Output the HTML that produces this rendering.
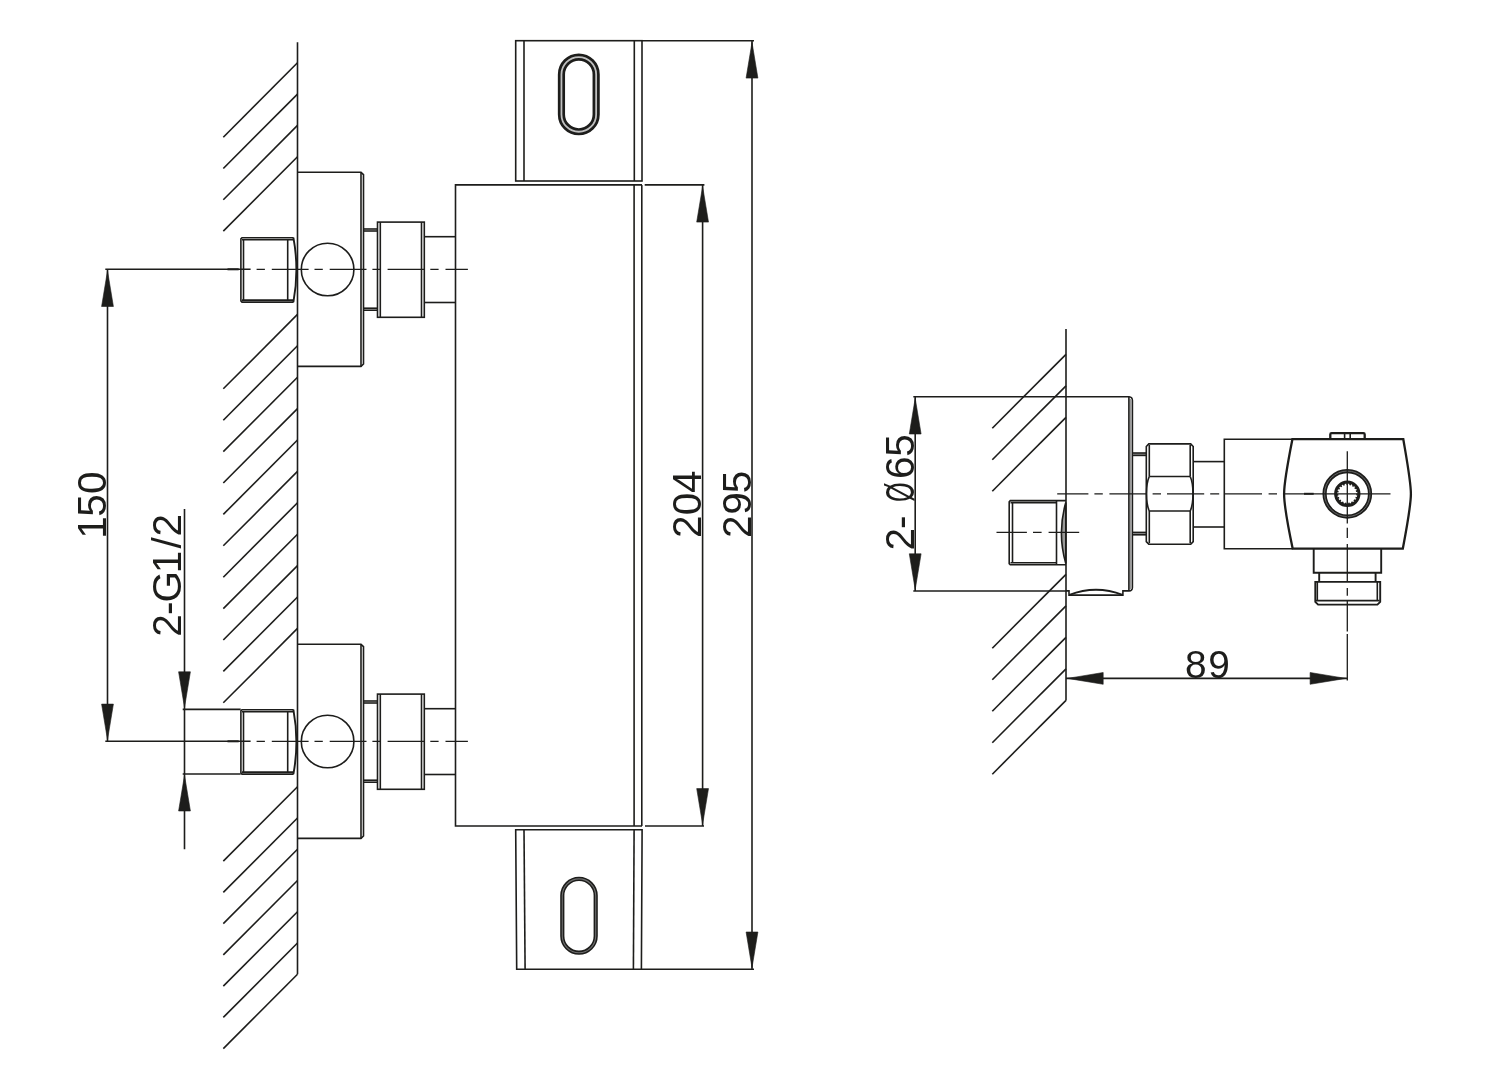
<!DOCTYPE html>
<html lang="en">
<head>
<meta charset="utf-8">
<title>Thermostatic shower mixer – dimensional drawing</title>
<style>
html,body{margin:0;padding:0;background:#fff;}
body{width:1500px;height:1089px;overflow:hidden;}
svg{display:block;will-change:transform;}
svg line,svg path,svg rect,svg circle{fill:none;stroke:#1d1d1b;stroke-width:1.6;stroke-linecap:butt;stroke-linejoin:miter;}
svg .ah{fill:#1d1d1b;stroke:#1d1d1b;stroke-width:0.6;}
svg .cl{stroke-width:1.3;}
svg .slot{stroke-width:7.2;}
svg .slotgap{stroke:#c0c0c0;stroke-width:1.8;}
svg .slot2{stroke-width:4.2;}
svg .slotgap2{stroke:#6e6e6e;stroke-width:1.1;}
svg .ov{stroke-width:2;}
svg .fill{stroke:#9a9a9a;stroke-width:2.2;}
svg .cap{stroke-width:2.3;}
svg .out{stroke-width:1.9;}
svg .ring{stroke-width:4.2;}
svg .ringgap{stroke:#666;stroke-width:1;}
svg .ring2{stroke-width:3;}
svg .teeth{stroke-width:1.6;stroke-dasharray:1.6 1.6;}
svg .lens{fill:#1d1d1b;fill-opacity:.45;}
svg text{font-family:"Liberation Sans",sans-serif;fill:#1d1d1b;stroke:none;}
</style>
</head>
<body>
<svg width="1500" height="1089" viewBox="0 0 1500 1089">
<rect x="0" y="0" width="1500" height="1089" style="fill:#fff;stroke:none"/>
<g id="front-view">
<line x1="297.5" y1="42.3" x2="297.5" y2="974.3"/>
<line x1="223.3" y1="137.2" x2="297.5" y2="62.8"/>
<line x1="223.3" y1="168.5" x2="297.5" y2="94.1"/>
<line x1="223.3" y1="199.8" x2="297.5" y2="125.4"/>
<line x1="223.3" y1="231.1" x2="297.5" y2="156.7"/>
<line x1="223.3" y1="388.8" x2="297.5" y2="314.4"/>
<line x1="223.3" y1="420.2" x2="297.5" y2="345.8"/>
<line x1="223.3" y1="451.6" x2="297.5" y2="377.2"/>
<line x1="223.3" y1="483.0" x2="297.5" y2="408.6"/>
<line x1="223.3" y1="514.4" x2="297.5" y2="440.0"/>
<line x1="223.3" y1="545.8" x2="297.5" y2="471.4"/>
<line x1="223.3" y1="577.2" x2="297.5" y2="502.8"/>
<line x1="223.3" y1="608.6" x2="297.5" y2="534.2"/>
<line x1="223.3" y1="640.0" x2="297.5" y2="565.6"/>
<line x1="223.3" y1="671.4" x2="297.5" y2="597.0"/>
<line x1="223.3" y1="702.8" x2="297.5" y2="628.4"/>
<line x1="223.3" y1="861.1" x2="297.5" y2="786.7"/>
<line x1="223.3" y1="892.4" x2="297.5" y2="818.0"/>
<line x1="223.3" y1="923.6" x2="297.5" y2="849.2"/>
<line x1="223.3" y1="954.9" x2="297.5" y2="880.5"/>
<line x1="223.3" y1="986.1" x2="297.5" y2="911.7"/>
<line x1="223.3" y1="1017.4" x2="297.5" y2="943.0"/>
<line x1="223.3" y1="1048.6" x2="297.5" y2="974.2"/>
<path d="M297.5 172.3 H361 L363.5 174.7 V364.0 L361 366.4 H297.5"/>
<line x1="361.0" y1="172.3" x2="361.0" y2="366.4"/>
<path d="M293.6 237.7 H242 L240.9 238.9 V300.9 L242 302.1 H293.6"/>
<line x1="243.5" y1="239.7" x2="243.5" y2="300.1"/>
<line x1="287.7" y1="239.7" x2="287.7" y2="300.1"/>
<line x1="242.0" y1="239.7" x2="293.4" y2="239.7"/>
<line x1="242.0" y1="300.1" x2="293.4" y2="300.1"/>
<path class="out" d="M293.4 237.7 Q299.4 269.9 293.4 302.1"/>
<circle cx="327.6" cy="269.5" r="26.3"/>
<line x1="363.5" y1="229.0" x2="377.5" y2="229.0"/>
<line x1="363.5" y1="231.0" x2="377.5" y2="231.0"/>
<line x1="363.5" y1="308.2" x2="377.5" y2="308.2"/>
<line x1="363.5" y1="310.2" x2="377.5" y2="310.2"/>
<rect x="377.5" y="222.1" width="46.8" height="95.2"/>
<line x1="380.3" y1="222.1" x2="380.3" y2="317.3"/>
<line x1="421.5" y1="222.1" x2="421.5" y2="317.3"/>
<line x1="424.3" y1="236.7" x2="455.4" y2="236.7"/>
<line x1="424.3" y1="302.5" x2="455.4" y2="302.5"/>
<line x1="105.3" y1="269.3" x2="250.6" y2="269.3"/>
<line x1="227.5" y1="269.3" x2="238.7" y2="269.3" class="ov"/>
<path class="cl" d="M256.6 269.3 H264.9 M271.8 269.3 H308.6 M314.5 269.3 H322.8 M329.7 269.3 H366.5 M372.4 269.3 H380.7 M387.6 269.3 H424.4 M430.3 269.3 H438.6 M445.5 269.3 H467.9"/>
<path d="M297.5 644.3 H361 L363.5 646.7 V836.0 L361 838.4 H297.5"/>
<line x1="361.0" y1="644.3" x2="361.0" y2="838.4"/>
<path d="M293.6 709.7 H242 L240.9 710.9 V772.9 L242 774.1 H293.6"/>
<line x1="243.5" y1="711.7" x2="243.5" y2="772.1"/>
<line x1="287.7" y1="711.7" x2="287.7" y2="772.1"/>
<line x1="242.0" y1="711.7" x2="293.4" y2="711.7"/>
<line x1="242.0" y1="772.1" x2="293.4" y2="772.1"/>
<path class="out" d="M293.4 709.7 Q299.4 741.9 293.4 774.1"/>
<circle cx="327.6" cy="741.5" r="26.3"/>
<line x1="363.5" y1="701.0" x2="377.5" y2="701.0"/>
<line x1="363.5" y1="703.0" x2="377.5" y2="703.0"/>
<line x1="363.5" y1="780.2" x2="377.5" y2="780.2"/>
<line x1="363.5" y1="782.2" x2="377.5" y2="782.2"/>
<rect x="377.5" y="694.1" width="46.8" height="95.2"/>
<line x1="380.3" y1="694.1" x2="380.3" y2="789.3"/>
<line x1="421.5" y1="694.1" x2="421.5" y2="789.3"/>
<line x1="424.3" y1="708.7" x2="455.4" y2="708.7"/>
<line x1="424.3" y1="774.5" x2="455.4" y2="774.5"/>
<line x1="105.3" y1="741.3" x2="250.6" y2="741.3"/>
<line x1="227.5" y1="741.3" x2="238.7" y2="741.3" class="ov"/>
<path class="cl" d="M256.6 741.3 H264.9 M271.8 741.3 H308.6 M314.5 741.3 H322.8 M329.7 741.3 H366.5 M372.4 741.3 H380.7 M387.6 741.3 H424.4 M430.3 741.3 H438.6 M445.5 741.3 H467.9"/>
<path d="M642 184.9 H455.5 V826 H642"/>
<line x1="634.1" y1="184.9" x2="634.1" y2="826.0"/>
<line x1="641.8" y1="184.9" x2="641.8" y2="826.0"/>
<rect x="515.7" y="40.7" width="126.3" height="140.3"/>
<line x1="524.0" y1="40.7" x2="524.0" y2="181.0"/>
<line x1="634.3" y1="40.7" x2="634.3" y2="181.0"/>
<path d="M515.7 829.7 H642.1 L641.4 969.2 H516.7 Z"/>
<line x1="524.0" y1="829.7" x2="525.1" y2="969.2"/>
<line x1="634.1" y1="829.7" x2="633.4" y2="969.2"/>
<rect class="slot" x="561.45" y="57.05" width="34.7" height="74.7" rx="17.35" ry="17.35"/>
<rect class="slotgap" x="561.45" y="57.05" width="34.7" height="74.7" rx="17.35" ry="17.35"/>
<rect class="slot2" x="562.3" y="878.9" width="33.4" height="73.8" rx="16.7" ry="16.7"/>
<rect class="slotgap2" x="562.3" y="878.9" width="33.4" height="73.8" rx="16.7" ry="16.7"/>
<line x1="642.0" y1="40.7" x2="754.0" y2="40.7"/>
<line x1="644.7" y1="184.9" x2="704.4" y2="184.9"/>
<line x1="645.0" y1="826.0" x2="704.0" y2="826.0"/>
<line x1="642.0" y1="969.2" x2="754.0" y2="969.2"/>
<line x1="702.6" y1="184.9" x2="702.6" y2="826.0"/>
<polygon class="ah" points="702.6,186.4 696.7,222.1 708.5,222.1"/>
<polygon class="ah" points="702.6,824.3 696.7,788.6 708.5,788.6"/>
<line x1="752.0" y1="40.7" x2="752.0" y2="969.2"/>
<polygon class="ah" points="752.0,42.4 746.1,78.1 757.9,78.1"/>
<polygon class="ah" points="752.0,967.7 746.1,932.0 757.9,932.0"/>
<line x1="107.5" y1="269.3" x2="107.5" y2="741.3"/>
<polygon class="ah" points="107.5,270.8 101.6,306.5 113.4,306.5"/>
<polygon class="ah" points="107.5,739.8 101.6,704.1 113.4,704.1"/>
<line x1="184.5" y1="509.0" x2="184.5" y2="849.3"/>
<line x1="182.7" y1="709.4" x2="240.7" y2="709.4"/>
<line x1="182.7" y1="774.0" x2="240.7" y2="774.0"/>
<polygon class="ah" points="184.5,707.5 178.6,671.8 190.4,671.8"/>
<polygon class="ah" points="184.5,775.3 178.6,811.0 190.4,811.0"/>
<text transform="translate(105.9 538.7) rotate(-90)" font-size="40.6" x="0 22 44.6">150</text>
<text transform="translate(181 636.8) rotate(-90)" font-size="40.6" x="0 21.9 34.3 63.6 88.3 100.3">2-G1/2</text>
<text transform="translate(701 538) rotate(-90)" font-size="40.6" x="0 22.7 45.1">204</text>
<text transform="translate(750.5 538) rotate(-90)" font-size="40.6" x="0 23.2 44.8">295</text>
</g>
<g id="side-view">
<line x1="1066.0" y1="329.0" x2="1066.0" y2="700.5"/>
<line x1="992.3" y1="428.2" x2="1066.0" y2="354.4"/>
<line x1="992.3" y1="459.7" x2="1066.0" y2="385.9"/>
<line x1="992.3" y1="491.2" x2="1066.0" y2="417.4"/>
<line x1="992.3" y1="648.2" x2="1066.0" y2="574.4"/>
<line x1="992.3" y1="679.7" x2="1066.0" y2="605.9"/>
<line x1="992.3" y1="711.2" x2="1066.0" y2="637.4"/>
<line x1="992.3" y1="742.7" x2="1066.0" y2="668.9"/>
<line x1="992.3" y1="774.2" x2="1066.0" y2="700.4"/>
<path d="M1066 396.8 H1129 Q1132.4 397.2 1132.4 400.4 V587.4 Q1132.4 590.6 1129 590.9 H1122.9 V595.1 H1069 V590.9 H1066"/>
<line x1="1130.7" y1="399.0" x2="1130.7" y2="589.0" class="fill"/>
<line x1="1128.9" y1="396.8" x2="1128.9" y2="590.9"/>
<path class="out" d="M1069.4 594.8 Q1096 584.6 1122.6 594.8"/>
<line x1="913.3" y1="396.8" x2="1066.0" y2="396.8"/>
<line x1="913.3" y1="591.0" x2="1066.0" y2="591.0"/>
<line x1="915.2" y1="396.8" x2="915.2" y2="591.0"/>
<polygon class="ah" points="915.2,398.3 909.3,434.0 921.1,434.0"/>
<polygon class="ah" points="915.2,589.5 909.3,553.8 921.1,553.8"/>
<text transform="translate(914 550.6) rotate(-90)" font-size="40.6"><tspan x="0 21.6">2-</tspan> <tspan x="48.5" textLength="19.7" lengthAdjust="spacingAndGlyphs">Ø</tspan><tspan x="71.7 93.9">65</tspan></text>
<path d="M1066 500.6 H1010.3 L1009.2 501.8 V563.6 L1010.3 564.8 H1066"/>
<line x1="1012.5" y1="502.6" x2="1012.5" y2="562.8"/>
<line x1="1056.5" y1="500.6" x2="1056.5" y2="564.8"/>
<line x1="1010.5" y1="502.6" x2="1056.5" y2="502.6"/>
<line x1="1010.5" y1="562.8" x2="1056.5" y2="562.8"/>
<path class="lens" d="M1065.8 502.5 Q1057 532.8 1065.8 563.5 Z"/>
<path class="cl" d="M996.5 532.4 H1026.9 M1033 532.4 H1041.6 M1048.6 532.4 H1079.2"/>
<line x1="1133.0" y1="454.2" x2="1146.0" y2="454.2" class="fill"/>
<line x1="1133.0" y1="533.6" x2="1146.0" y2="533.6" class="fill"/>
<line x1="1132.4" y1="453.0" x2="1146.3" y2="453.0"/>
<line x1="1132.4" y1="455.4" x2="1146.3" y2="455.4"/>
<line x1="1132.4" y1="532.4" x2="1146.3" y2="532.4"/>
<line x1="1132.4" y1="534.8" x2="1146.3" y2="534.8"/>
<path d="M1148.8 443.9 H1190.7 L1193.2 446.5 V541.6 L1190.7 544.3 H1148.8 L1146.3 541.6 V446.5 Z"/>
<line x1="1149.3" y1="445.0" x2="1149.3" y2="476.5"/>
<line x1="1190.2" y1="445.0" x2="1190.2" y2="476.5"/>
<line x1="1149.3" y1="511.0" x2="1149.3" y2="543.2"/>
<line x1="1190.2" y1="511.0" x2="1190.2" y2="543.2"/>
<line x1="1149.3" y1="476.5" x2="1190.2" y2="476.5"/>
<line x1="1149.3" y1="511.0" x2="1190.2" y2="511.0"/>
<path d="M1149.3 476.5 C1145.6 484.5 1145.6 503 1149.3 511 M1190.2 476.5 C1193.9 484.5 1193.9 503 1190.2 511"/>
<line x1="1193.2" y1="461.6" x2="1224.3" y2="461.6"/>
<line x1="1193.2" y1="527.0" x2="1224.3" y2="527.0"/>
<path d="M1292.5 439.2 H1224.3 V548.7 H1292.5"/>
<path class="cap" d="M1292.4 439.2 H1403.3 C1407.5 464 1410.9 482 1410.9 493.8 C1410.9 506 1407.5 524 1402.8 548.7 H1292.7 C1287.5 524 1284.1 506 1284.1 493.8 C1284.1 482 1287.5 464 1292.4 439.2 Z"/>
<path class="cap" d="M1330.3 439.2 V434.5 Q1330.3 433.2 1331.6 433.2 H1363.4 Q1364.7 433.2 1364.7 434.5 V439.2"/>
<line x1="1344.6" y1="433.2" x2="1344.6" y2="439.2"/>
<line x1="1350.2" y1="433.2" x2="1350.2" y2="439.2"/>
<circle class="ring" cx="1347.3" cy="493.8" r="22.75"/>
<circle class="ringgap" cx="1347.3" cy="493.8" r="22.75"/>
<circle class="ring2" cx="1347.3" cy="493.8" r="11.7"/>
<circle class="teeth" cx="1347.3" cy="493.8" r="9.8"/>
<path class="cl" d="M1057.2 493.8 H1088.4 M1094.4 493.8 H1102.8 M1109.4 493.8 H1146 M1152.6 493.8 H1161 M1167 493.8 H1204.2 M1210.2 493.8 H1219.2 M1224.2 493.8 H1262 M1268.6 493.8 H1277 M1283.6 493.8 H1390.5"/>
<line x1="1304.0" y1="493.8" x2="1313.7" y2="493.8" class="ov"/>
<path class="cl" d="M1347.3 451.3 V523.6 M1347.3 527.7 V537.9 M1347.3 543.9 V582.1 M1347.3 588 V595.8 M1347.3 600.6 V631.6 M1347.3 634 V680.6"/>
<path class="out" d="M1313.7 548.7 V572.8 H1381.2 V548.7"/>
<path class="out" d="M1319.2 572.8 V581.9 M1375.6 572.8 V581.9"/>
<path class="out" d="M1315.3 581.9 H1380.2 V601.8 L1377.4 604.6 H1318.1 L1315.3 601.8 Z"/>
<line x1="1316.0" y1="600.6" x2="1379.5" y2="600.6"/>
<line x1="1317.3" y1="581.9" x2="1317.3" y2="600.6"/>
<line x1="1377.3" y1="581.9" x2="1377.3" y2="600.6"/>
<line x1="1066.0" y1="678.4" x2="1347.3" y2="678.4"/>
<polygon class="ah" points="1067.5,678.4 1103.2,672.5 1103.2,684.3"/>
<polygon class="ah" points="1345.8,678.4 1310.1,672.5 1310.1,684.3"/>
<text x="1184.9 1208.3" y="677.8" font-size="38.8">89</text>
</g>
</svg>
</body>
</html>
